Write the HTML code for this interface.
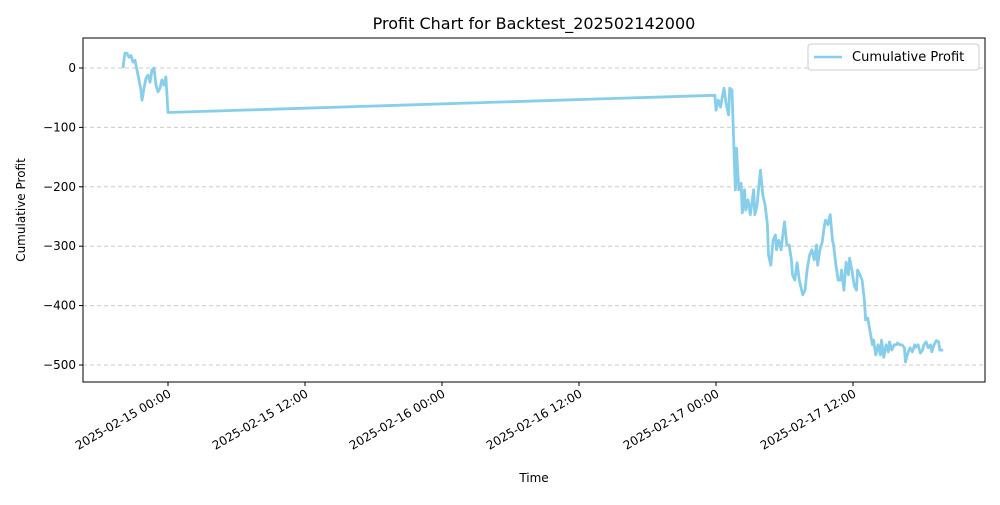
<!DOCTYPE html>
<html><head><meta charset="utf-8"><style>
body{margin:0;background:#fff;font-family:"Liberation Sans","DejaVu Sans",sans-serif}
</style></head><body>
<svg id="chart" width="1000" height="500" viewBox="0 0 1000 500" font-family="DejaVu Sans, Liberation Sans, sans-serif">
<rect width="1000" height="500" fill="#fff"/>
<text x="534" y="29" text-anchor="middle" font-size="16">Profit Chart for Backtest_202502142000</text>
<g id="grid"></g>
<g id="series"></g>
<rect x="83" y="38" width="902" height="344" fill="none" stroke="#000" stroke-width="1"/>
<g id="yticks"></g>
<g id="xticks"></g>
<text x="534" y="482" text-anchor="middle" font-size="12">Time</text>
<text x="25" y="210" text-anchor="middle" font-size="12" transform="rotate(-90 25 210)">Cumulative Profit</text>
<g>
<rect x="808" y="44" width="171" height="26" rx="3" fill="#fff" stroke="#ccc"/>
<line x1="814" y1="57" x2="842" y2="57" stroke="#87ceeb" stroke-width="2.5"/>
<text x="852" y="61" font-size="13">Cumulative Profit</text>
</g>
</svg>
<script>
// hours since 2025-02-15 00:00
const hours = [-3.94,-3.85,-3.77,-3.6,-3.42,-3.24,-3.07,-2.89,-2.72,-2.54,-2.37,-2.28,-2.1,-1.93,-1.75,-1.58,-1.4,-1.23,-1.05,-0.88,-0.7,-0.53,-0.35,-0.18,0,
47.9,48.0,48.2,48.4,48.5,48.7,48.9,49.1,49.2,49.4,49.6,49.7,49.8,50.0,50.2,50.3,50.5,50.6,50.8,51.0,51.2,51.3,51.4,51.6,51.8,51.9,52.1,52.3,52.5,52.6,52.8,53.0,53.2,53.3,53.5,53.7,53.9,54.0,54.2,54.4,54.6,54.7,54.9,55.1,55.3,55.5,55.6,55.8,56.0,56.2,56.4,56.6,56.8,56.9,57.1,57.3,57.5,57.6,57.8,58.0,58.2,58.3,58.5,58.7,58.9,59.0,59.2,59.4,59.6,59.7,59.9,60.1,60.3,60.4,60.6,60.8,61.0,61.1,61.3,61.5,61.7,61.8,62.0,62.2,62.4,62.5,62.7,62.9,63.1,63.2,63.4,63.6,63.8,63.9,64.1,64.3,64.5,64.6,64.8,65.0,65.2,65.4,65.5,65.7,65.9,66.1,66.2,66.4,66.6,66.8,66.9,67.1,67.3,67.5,67.6,67.9];
const profit = [0,14,25,25,18,21,10,13,-3,-20,-37,-54,-34,-17,-12,-24,-3,0,-29,-40,-34,-20,-29,-15,-75,
-46,-71,-54,-66,-54,-34,-62,-79,-34,-37,-155,-205,-135,-205,-194,-244,-205,-239,-222,-247,-219,-205,-247,-231,-189,-172,-214,-231,-264,-315,-332,-290,-281,-306,-290,-306,-273,-259,-298,-298,-323,-348,-357,-328,-357,-374,-382,-374,-337,-315,-306,-323,-298,-332,-306,-293,-264,-256,-264,-247,-290,-298,-332,-357,-357,-340,-374,-327,-348,-320,-340,-365,-374,-340,-348,-357,-391,-424,-421,-444,-466,-458,-483,-466,-483,-458,-487,-466,-478,-461,-475,-466,-466,-463,-466,-466,-471,-495,-480,-471,-478,-466,-470,-466,-480,-475,-466,-461,-471,-466,-478,-466,-459,-461,-475,-475];
const yTicks = [0,-100,-200,-300,-400,-500];
const xTickHours = [0,12,24,36,48,60];
const xTickLabels = ["2025-02-15 00:00","2025-02-15 12:00","2025-02-16 00:00","2025-02-16 12:00","2025-02-17 00:00","2025-02-17 12:00"];

const NS="http://www.w3.org/2000/svg";
const xS = h => 168 + h*137/12;
const yS = v => 68 - v*0.594;
function mk(tag, attrs, parent){const e=document.createElementNS(NS,tag);for(const k in attrs)e.setAttribute(k,attrs[k]);parent.appendChild(e);return e;}
const grid=document.getElementById('grid'), yt=document.getElementById('yticks'), xt=document.getElementById('xticks'), ser=document.getElementById('series');
yTicks.forEach(v=>{
  const y=yS(v);
  const g=mk('line',{x1:83,x2:985,y1:y,y2:y,stroke:'#ccc','stroke-dasharray':'4,3','stroke-width':1},grid);
  
  
  const t=mk('line',{x1:79,x2:83,y1:y,y2:y,stroke:'#000'},yt);
  
  
  const l=mk('text',{x:76,y:y+4,'text-anchor':'end','font-size':12},yt);
  l.textContent=(v<0?'\u2212'+(-v):String(v));
  
  
});
xTickHours.forEach((h,i)=>{
  const x=xS(h);
  const t=mk('line',{x1:x,x2:x,y1:382,y2:386,stroke:'#000'},xt);
  
  
  const l=mk('text',{x:x+4,y:396,'text-anchor':'end','font-size':12,transform:`rotate(-30 ${x+4} 396)`},xt);
  l.textContent=xTickLabels[i];
  
  
});
const d=hours.map((h,i)=>(i?'L':'M')+xS(h).toFixed(1)+','+yS(profit[i]).toFixed(1)).join('');
const p=mk('path',{d:d,fill:'none',stroke:'#87ceeb','stroke-width':2.8,'stroke-linejoin':'round'},ser);


</script>
</body></html>
